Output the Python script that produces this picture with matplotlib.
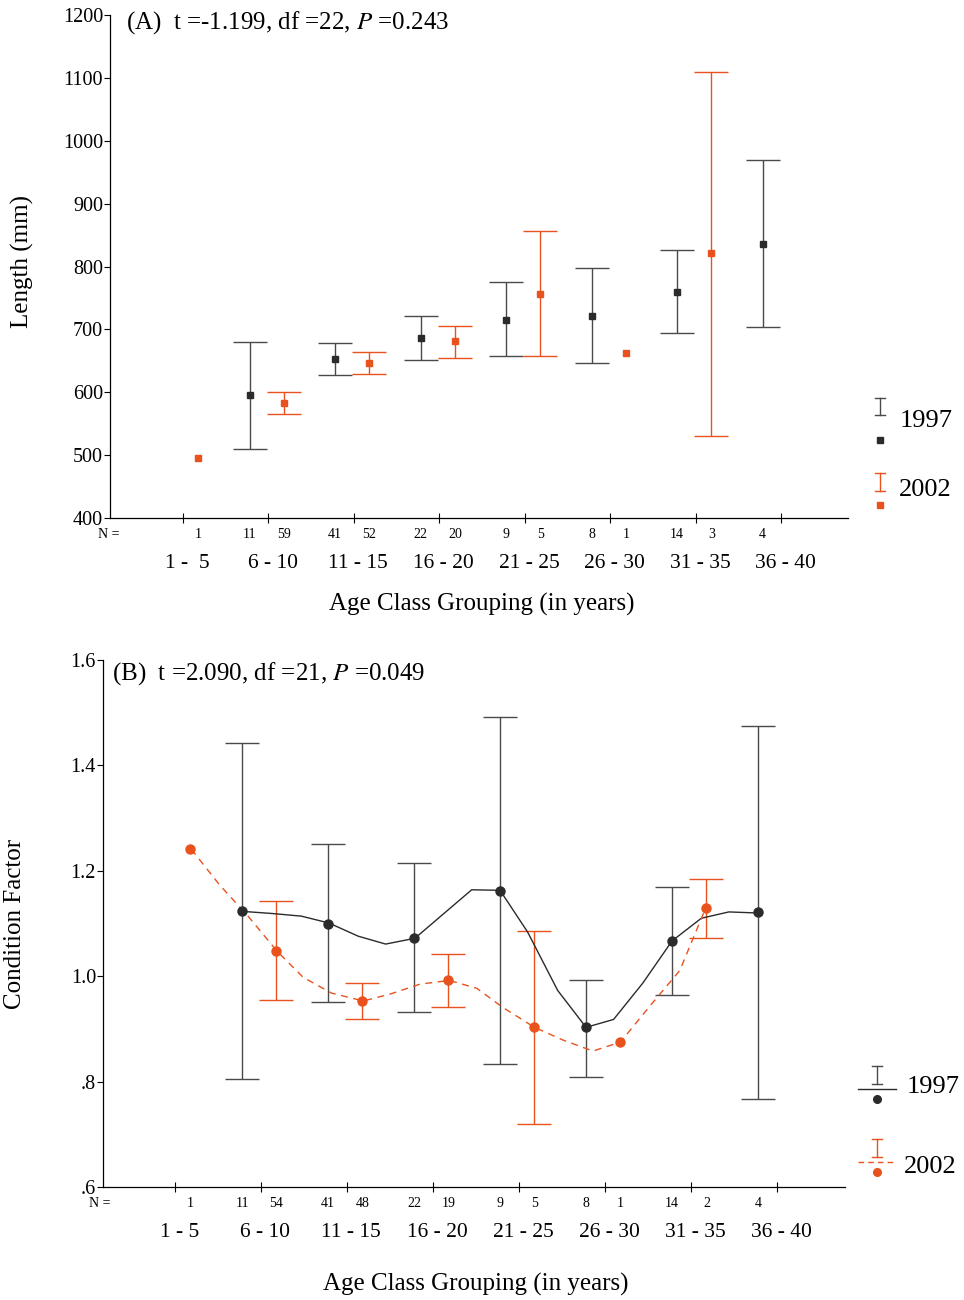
import numpy as np
import matplotlib.pyplot as plt
from matplotlib.lines import Line2D

plt.rcParams['font.family'] = ['Liberation Serif', 'DejaVu Serif']

nan = np.nan

# Age classes
groups_a = ['1 -  5', '6 - 10', '11 - 15', '16 - 20', '21 - 25', '26 - 30', '31 - 35', '36 - 40']
groups_b = ['1 - 5', '6 - 10', '11 - 15', '16 - 20', '21 - 25', '26 - 30', '31 - 35', '36 - 40']

# (A) Length (mm): mean and error bar limits
len97_mean = [nan, 595, 653, 686, 715, 721, 759, 836]
len97_lo = [nan, 510, 627, 651, 657, 646, 694, 704]
len97_hi = [nan, 680, 678, 721, 775, 797, 826, 969]
len02_mean = [495, 583, 646, 681, 756, 662, 821, nan]
len02_lo = [nan, 565, 629, 654, 657, nan, 530, nan]
len02_hi = [nan, 600, 664, 705, 856, nan, 1109, nan]
n97_a = [None, 11, 41, 22, 9, 8, 14, 4]
n02_a = [1, 59, 52, 20, 5, 1, 3, None]

# (B) Condition factor
cf97_mean = [nan, 1.123, 1.100, 1.072, 1.161, 0.903, 1.066, 1.121]
cf97_lo = [nan, 0.805, 0.951, 0.932, 0.833, 0.809, 0.964, 0.767]
cf97_hi = [nan, 1.442, 1.250, 1.214, 1.491, 0.992, 1.169, 1.474]
cf02_mean = [1.241, 1.047, 0.953, 0.992, 0.903, 0.875, 1.129, nan]
cf02_lo = [nan, 0.954, 0.918, 0.941, 0.719, nan, 1.072, nan]
cf02_hi = [nan, 1.142, 0.987, 1.042, 1.085, nan, 1.184, nan]
n97_b = [None, 11, 41, 22, 9, 8, 14, 4]
n02_b = [1, 54, 48, 19, 5, 1, 2, None]

# smoothed connecting lines in (B), vertices
line97_x = [0.79, 1.13, 1.47, 1.79, 2.13, 2.45, 2.79, 3.12, 3.45, 3.78, 4.10, 4.45,
            4.78, 5.10, 5.44, 5.78, 6.12, 6.44, 6.77]
line97_y = [1.123, 1.119, 1.114, 1.101, 1.076, 1.061, 1.072, 1.118, 1.164, 1.163, 1.084, 0.973,
            0.903, 0.918, 0.987, 1.067, 1.110, 1.122, 1.120]
line02_x = [0.19, 0.52, 0.85, 1.19, 1.49, 1.82, 2.19, 2.50, 2.85, 3.19, 3.51, 3.81, 4.18,
            4.51, 4.86, 5.18, 5.52, 5.87, 6.17]
line02_y = [1.241, 1.173, 1.114, 1.047, 0.998, 0.968, 0.953, 0.966, 0.985, 0.992, 0.977, 0.941, 0.903,
            0.879, 0.858, 0.875, 0.943, 1.011, 1.129]

DARK = '#2b2b2b'
GRAY = '#4a4a4a'
ORANGE = '#e9521c'
OFF97, OFF02 = -0.22, 0.18

fig = plt.figure(figsize=(9.64, 13), dpi=100)


def style_axes(ax):
    ax.spines['top'].set_visible(False)
    ax.spines['right'].set_visible(False)
    ax.spines['left'].set_linewidth(0.9)
    ax.spines['bottom'].set_linewidth(0.9)
    ax.set_xticks(np.arange(8))
    ax.set_xticklabels([])
    ax.tick_params(axis='x', direction='inout', length=7, width=0.8)
    ax.tick_params(axis='y', direction='out', length=4, width=0.8, labelsize=14.5, pad=1)


def draw_bars(ax, x, mean, lo, hi, color, ecolor, marker, ms):
    mean, lo, hi = np.array(mean), np.array(lo), np.array(hi)
    ax.errorbar(x, mean, yerr=[mean - lo, hi - mean], fmt='none', ecolor=ecolor,
                elinewidth=1.0, capsize=12.5, capthick=1.0, zorder=2)
    ax.plot(x, mean, linestyle='none', marker=marker, ms=ms, color=color, zorder=4)


def n_row(ax, n97, n02, groups, ny, cy, lx, xlabel):
    tr = ax.get_xaxis_transform()
    ax.text(-1.0, ny, 'N =', transform=tr, fontsize=10, ha='left', va='center', clip_on=False)
    for i in range(8):
        if n97[i] is not None:
            ax.text(i + OFF97, ny, str(n97[i]), transform=tr, fontsize=10, ha='center', va='center')
        if n02[i] is not None:
            ax.text(i + OFF02, ny, str(n02[i]), transform=tr, fontsize=10, ha='center', va='center')
        ax.text(i + 0.05, cy, groups[i], transform=tr, fontsize=15.5, ha='center', va='center')
    ax.text(3.5, lx, xlabel, transform=tr, fontsize=18, ha='center', va='center')


x = np.arange(8)

# ---- Panel A ----
axA = fig.add_axes([0.1141, 0.6015, 0.7656, 0.3869])
style_axes(axA)
axA.set_xlim(-0.854, 7.78)
axA.set_ylim(400, 1200)
axA.set_yticks(np.arange(400, 1201, 100))
draw_bars(axA, x + OFF97, len97_mean, len97_lo, len97_hi, DARK, GRAY, 's', 3.8)
draw_bars(axA, x + OFF02, len02_mean, len02_lo, len02_hi, ORANGE, ORANGE, 's', 3.8)
axA.set_ylabel('Length (mm)', fontsize=18)
axA.yaxis.set_label_coords(-0.103, 0.51)
axA.text(0.022, 0.985, '(A)  t =-1.199, df =22, $\\it{P}$ =0.243', transform=axA.transAxes,
         fontsize=18, ha='left', va='center', math_fontfamily='stix')
n_row(axA, n97_a, n02_a, groups_a, -0.032, -0.0895, -0.171, 'Age Class Grouping (in years)')

# ---- Panel B ----
axB = fig.add_axes([0.1068, 0.0869, 0.7697, 0.4054])
style_axes(axB)
axB.set_xlim(-0.837, 7.79)
axB.set_ylim(0.6, 1.6)
axB.set_yticks([0.6, 0.8, 1.0, 1.2, 1.4, 1.6])
axB.set_yticklabels(['.6', '.8', '1.0', '1.2', '1.4', '1.6'])
axB.plot(line97_x, line97_y, color=DARK, lw=1.0, zorder=3)
axB.plot(line02_x, line02_y, color=ORANGE, lw=1.0, ls=(0, (5, 4)), zorder=3)
draw_bars(axB, x + OFF97, cf97_mean, cf97_lo, cf97_hi, DARK, GRAY, 'o', 6.5)
draw_bars(axB, x + OFF02, cf02_mean, cf02_lo, cf02_hi, ORANGE, ORANGE, 'o', 6.5)
axB.set_ylabel('Condition Factor', fontsize=18)
axB.yaxis.set_label_coords(-0.104, 0.5)
axB.text(0.012, 0.975, '(B)  t =2.090, df =21, $\\it{P}$ =0.049', transform=axB.transAxes,
         fontsize=18, ha='left', va='center', math_fontfamily='stix')
n_row(axB, n97_b, n02_b, groups_b, -0.032, -0.087, -0.184, 'Age Class Grouping (in years)')

# ---- legends (figure pixel coordinates) ----
leg = fig.add_axes([0, 0, 1, 1], zorder=-1)
leg.set_xlim(0, 964)
leg.set_ylim(1300, 0)
leg.axis('off')


def icon(cx, top, bot, color, ecolor, marker, my, ms, line=None):
    leg.add_line(Line2D([cx, cx], [top, bot], color=ecolor, lw=1.0))
    for yy in (top, bot):
        leg.add_line(Line2D([cx - 5, cx + 5], [yy, yy], color=ecolor, lw=1.0))
    if line is not None:
        leg.add_line(Line2D([cx - 19, cx + 19], [bot + 5, bot + 5], color=color, lw=1.0, ls=line))
    leg.plot([cx], [my], marker=marker, ms=ms, color=color, linestyle='none')


icon(880, 398, 415, DARK, GRAY, 's', 440, 3.8)
leg.text(900, 421, '1997', fontsize=19, va='center', ha='left')
icon(880, 473, 491, ORANGE, ORANGE, 's', 505, 3.8)
leg.text(899, 490, '2002', fontsize=19, va='center', ha='left')

icon(877, 1066, 1084, DARK, GRAY, 'o', 1099, 5.5, line='-')
leg.text(907, 1087, '1997', fontsize=19, va='center', ha='left')
icon(877, 1139, 1157, ORANGE, ORANGE, 'o', 1172, 5.5, line=(0, (4, 3)))
leg.text(904, 1167, '2002', fontsize=19, va='center', ha='left')

fig.savefig('out.png', dpi=100)
